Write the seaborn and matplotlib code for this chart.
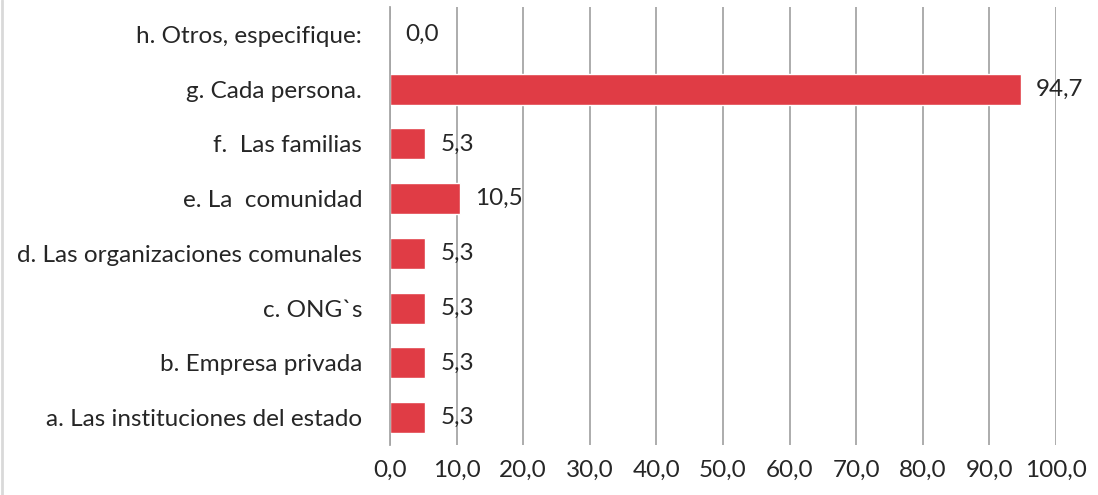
import matplotlib.pyplot as plt
import matplotlib.ticker as mticker
import pandas as pd
import seaborn as sns

categories = [
    "h. Otros, especifique:",
    "g. Cada persona.",
    "f.  Las familias",
    "e. La  comunidad",
    "d. Las organizaciones comunales",
    "c. ONG`s",
    "b. Empresa privada",
    "a. Las instituciones del estado",
]
values = [0.0, 94.7, 5.3, 10.5, 5.3, 5.3, 5.3, 5.3]
x_ticks = [0, 10, 20, 30, 40, 50, 60, 70, 80, 90, 100]

BAR_COLOR = "#E03C45"
GRID_COLOR = "#A6A6A6"
TEXT_COLOR = "#262626"
FS = 17.5

sns.set_theme(style="white")
plt.rcParams["font.family"] = ["Lato", "DejaVu Sans"]

df = pd.DataFrame({"categoria": categories, "valor": values})

fig = plt.figure(figsize=(10.98, 4.95), dpi=100)
ax = fig.add_axes([390 / 1098, 1 - 445 / 495, 666 / 1098, 438 / 495])

sns.barplot(data=df, x="valor", y="categoria", color=BAR_COLOR, saturation=1,
            width=0.57, ax=ax)

ax.set_xlim(0, 100)
ax.set_xticks(x_ticks)
ax.xaxis.set_major_formatter(mticker.FuncFormatter(lambda v, _: f"{v:.1f}".replace(".", ",")))
ax.grid(axis="x", color=GRID_COLOR, linewidth=1.3)
ax.set_axisbelow(True)
ax.set_xlabel("")
ax.set_ylabel("")
for s in ["top", "right", "bottom"]:
    ax.spines[s].set_visible(False)
ax.spines["left"].set_color(GRID_COLOR)
ax.spines["left"].set_linewidth(1.3)
ax.tick_params(axis="x", length=0, pad=11, labelsize=FS, labelcolor=TEXT_COLOR)
ax.tick_params(axis="y", length=0, pad=20, labelsize=FS, labelcolor=TEXT_COLOR)

for i, v in enumerate(values):
    ax.annotate(f"{v:.1f}".replace(".", ","), xy=(v, i), xytext=(11, 0),
                textcoords="offset points", va="center", ha="left",
                fontsize=FS, color=TEXT_COLOR)

# borde gris claro del lado izquierdo
fig.add_artist(plt.Line2D([0.002, 0.002], [0, 1], color="#D9D9D9", linewidth=2,
                          transform=fig.transFigure))

fig.savefig("out.png", dpi=100)
